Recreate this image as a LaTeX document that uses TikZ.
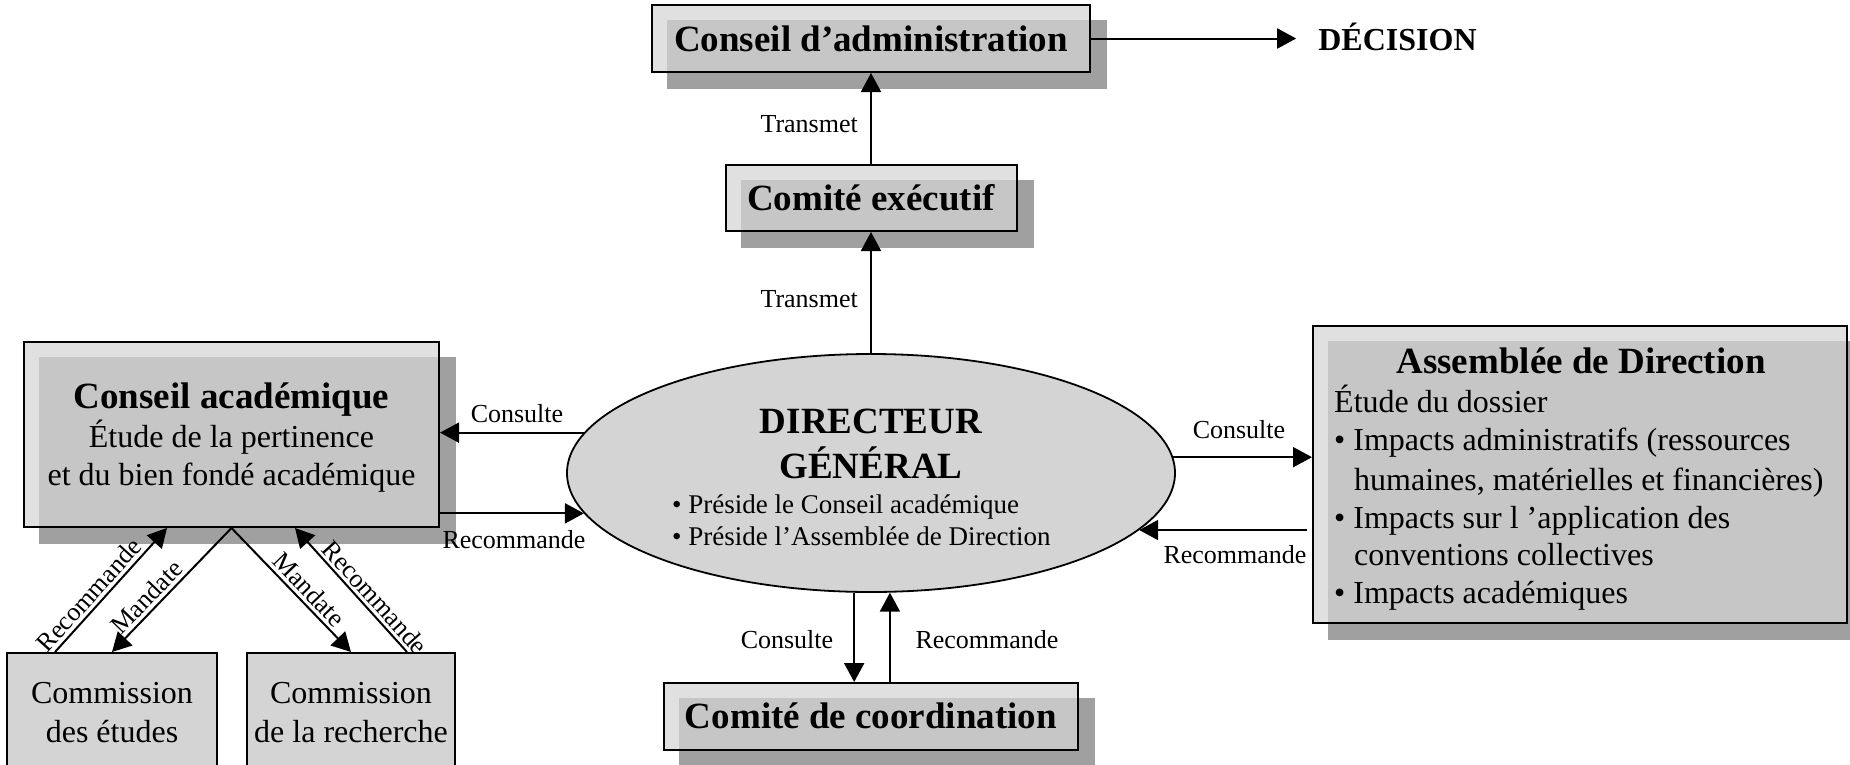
\documentclass[tikz,border=0pt]{standalone}
\usepackage{fontspec}
\setmainfont{Liberation Serif}
\usetikzlibrary{arrows.meta,shapes.geometric}
\pgfdeclarelayer{bg}
\pgfsetlayers{bg,main}
\definecolor{shc}{RGB}{160,160,160}
\definecolor{lightc}{RGB}{224,224,224}
\definecolor{ovc}{RGB}{198,198,198}
\definecolor{dgc}{RGB}{212,212,212}
\newcommand\ftitle{\fontsize{37}{40}\selectfont\bfseries}
\newcommand\fbody{\fontsize{32}{38}\selectfont}
\newcommand\flabel{\fontsize{26}{30}\selectfont}
\newcommand\fdg{\fontsize{27}{31}\selectfont}
\newcommand\fdec{\fontsize{32}{36}\selectfont\bfseries}
\newcommand\shadowfor[1]{%
  \begin{pgfonlayer}{bg}
    \fill[shc] ([shift={(16,16)}]#1.north west) rectangle ([shift={(16,16)}]#1.south east);
    \fill[lightc] (#1.north west) rectangle (#1.south east);
    \fill[ovc] ([shift={(16,16)}]#1.north west) rectangle (#1.south east);
  \end{pgfonlayer}}
\tikzset{
  sbox/.style={draw=black, line width=2pt, inner sep=0pt},
  cbox/.style={draw=black, line width=2pt, inner sep=0pt, fill=dgc},
  dgshape/.style={ellipse, draw=black, line width=1.8pt, inner sep=0pt, fill=dgc},
  txt/.style={inner sep=0pt, anchor=base},
  txtw/.style={inner sep=0pt, anchor=base west},
  lbl/.style={inner sep=0pt, anchor=base, font=\flabel},
  slbl/.style={inner sep=1pt, font=\flabel, sloped, above=2pt},
  arr/.style={line width=2pt, -{Triangle[length=19pt,width=20pt]}},
}
\begin{document}
\begin{tikzpicture}[x=1pt,y=-1pt]
\useasboundingbox (0,0) rectangle (1850,764);

% boxes
\node[sbox, minimum width=438pt, minimum height=67pt] (CA) at (871,38.5) {};
\node[sbox, minimum width=291pt, minimum height=66pt] (CE) at (871,198) {};
\node[sbox, minimum width=414pt, minimum height=67pt] (CC) at (871,716.5) {};
\node[sbox, minimum width=415pt, minimum height=185pt] (CAc) at (231.5,434.5) {};
\node[sbox, minimum width=534pt, minimum height=297pt] (AD) at (1580,474.5) {};
\node[cbox, minimum width=210pt, minimum height=140pt] (CEt) at (112,723) {};
\node[cbox, minimum width=208pt, minimum height=140pt] (CRe) at (351,723) {};
\node[dgshape, minimum width=608pt, minimum height=238pt] (DG) at (871,473) {};

\shadowfor{CA}
\shadowfor{CE}
\shadowfor{CC}
\shadowfor{CAc}
\shadowfor{AD}

% texts
\node[txt, font=\ftitle] (tCA) at (871,51) {Conseil d’administration};
\node[txt, font=\fdec] (DEC) at (1397.5,50) {DÉCISION};
\node[txt, font=\ftitle] (tCE) at (871,210) {Comité exécutif};
\node[txt, font=\ftitle] (tCC) at (871,728) {Comité de coordination};

\node[txt, font=\ftitle] (tCAc1) at (231.5,408) {Conseil académique};
\node[txt, font=\fbody] (tCAc2) at (231.5,447) {Étude de la pertinence};
\node[txt, font=\fbody] (tCAc3) at (231.5,485) {et du bien fondé académique};

\node[txt, font=\ftitle] (tAD0) at (1581,373) {Assemblée de Direction};
\node[txtw, font=\fbody] (tAD1) at (1334,412) {Étude du dossier};
\node[txtw, font=\fbody] (tAD2) at (1334,450) {• Impacts administratifs (ressources};
\node[txtw, font=\fbody] (tAD3) at (1354,490) {humaines, matérielles et financières)};
\node[txtw, font=\fbody] (tAD4) at (1334,528) {• Impacts sur l ’application des};
\node[txtw, font=\fbody] (tAD5) at (1354,565) {conventions collectives};
\node[txtw, font=\fbody] (tAD6) at (1334,603) {• Impacts académiques};

\node[txt, font=\ftitle] (tDG1) at (871,433) {DIRECTEUR};
\node[txt, font=\ftitle] (tDG2) at (871,478) {GÉNÉRAL};
\node[txtw, font=\fdg] (tDG3) at (672,513) {• Préside le Conseil académique};
\node[txtw, font=\fdg] (tDG4) at (672,545) {• Préside l’Assemblée de Direction};

\node[txt, font=\fbody] (tCEt1) at (112,703) {Commission};
\node[txt, font=\fbody] (tCEt2) at (112,742) {des études};
\node[txt, font=\fbody] (tCRe1) at (351,703) {Commission};
\node[txt, font=\fbody] (tCRe2) at (351,742) {de la recherche};

% labels
\node[inner sep=0pt, anchor=base east, font=\flabel] (lT1) at (858,132) {Transmet};
\node[inner sep=0pt, anchor=base east, font=\flabel] (lT2) at (858,307) {Transmet};
\node[lbl] (lCL) at (517,422) {Consulte};
\node[lbl] (lRL) at (514,548) {Recommande};
\node[lbl] (lCR) at (1239,438) {Consulte};
\node[lbl] (lRR) at (1235,563) {Recommande};
\node[lbl] (lCB) at (787,648) {Consulte};
\node[lbl] (lRB) at (987,648) {Recommande};

% connectors
\draw[arr, shorten >=22pt] (CA.east) -- (CA.east -| DEC.west);
\draw[arr] (CE.north) -- (CA.south);
\draw[arr] (DG.north) -- (CE.south);
\draw[arr] (DG.172.9) -- (DG.172.9 -| CAc.east);
\draw[arr] (DG.188.9 -| CAc.east) -- (DG.188.9);
\draw[arr] (DG.3.8) -- (DG.3.8 -| AD.west);
\draw[arr] ([shift={(-5,0)}]DG.-12.85 -| AD.west) -- (DG.-12.85);
\draw[arr] (DG.-98.1) -- (DG.-98.1 |- CC.north);
\draw[arr] (DG.-81.9 |- CC.north) -- (DG.-81.9);

\draw[arr] ([shift={(-57,0)}]CEt.north) -- node[slbl, pos=0.39] (lR1) {Recommande} ([shift={(-64.5,0)}]CAc.south);
\draw[arr] (CAc.south) -- node[slbl, pos=0.63] (lM1) {Mandate} (CEt.north);
\draw[arr] (CAc.south) -- node[slbl, pos=0.57] (lM2) {Mandate} (CRe.north);
\draw[arr] ([shift={(56,0)}]CRe.north) -- node[slbl, pos=0.37] (lR2) {Recommande} ([shift={(63.5,0)}]CAc.south);
\end{tikzpicture}
\end{document}
